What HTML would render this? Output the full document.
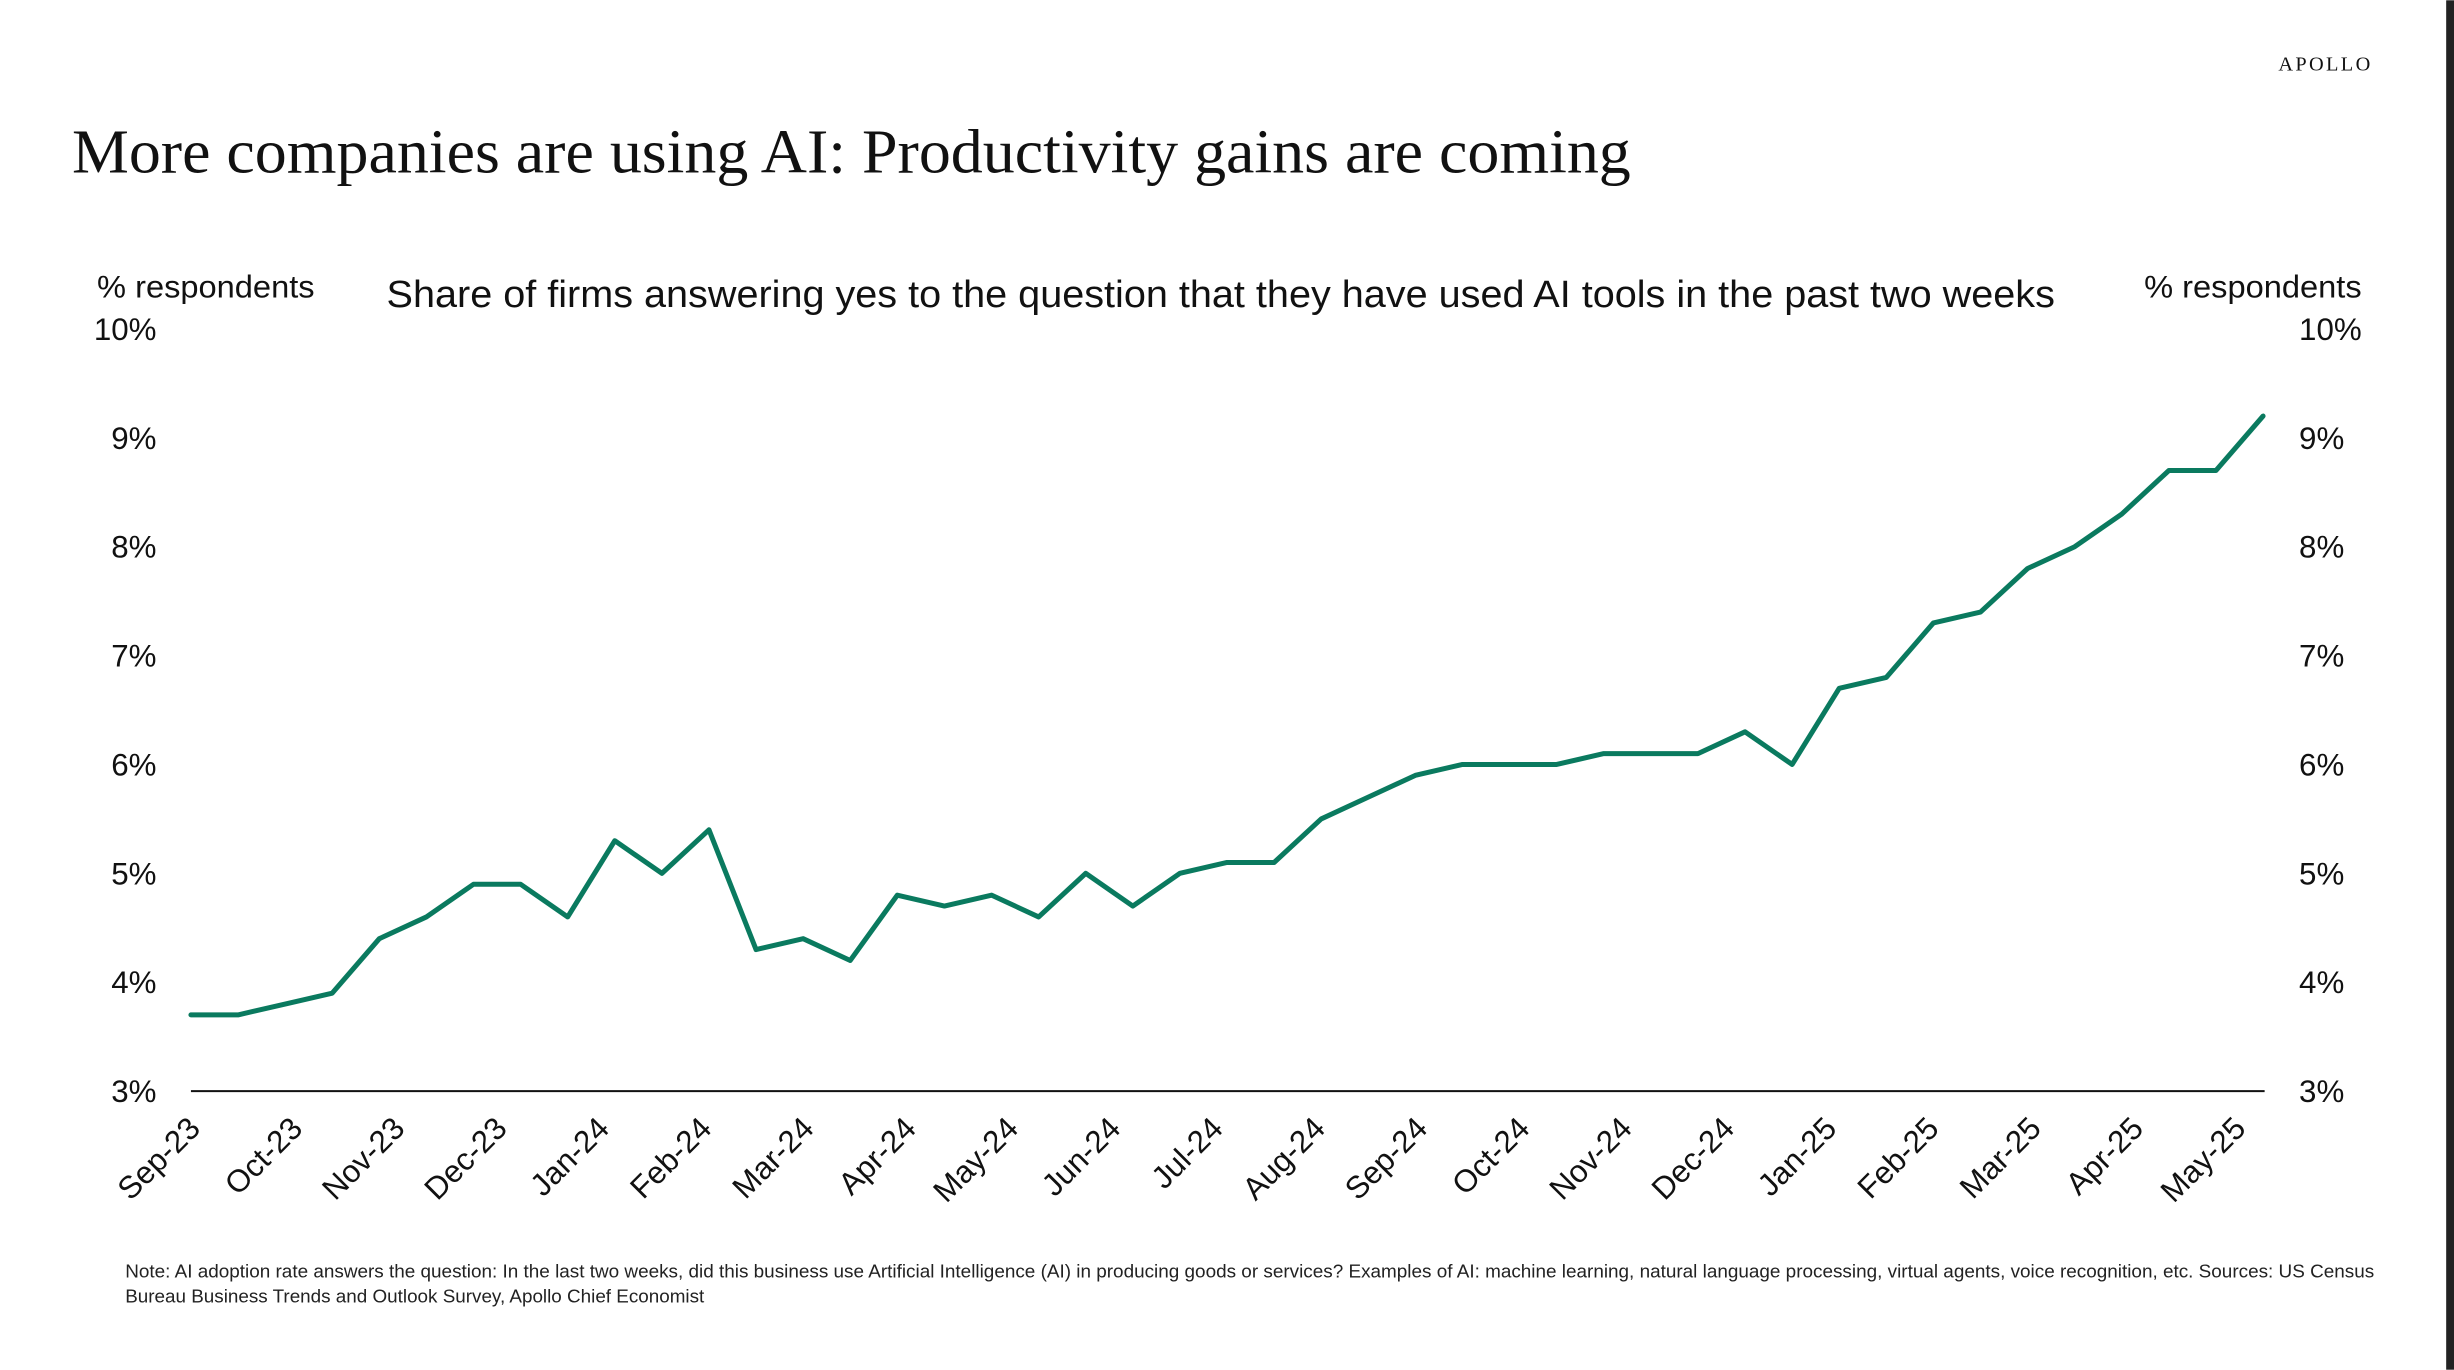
<!DOCTYPE html>
<html><head><meta charset="utf-8"><style>
html,body{margin:0;padding:0;background:#fff;}
svg{display:block;}
</style></head><body>
<svg id="chart" width="2454" height="1370" viewBox="0 0 1568 875" xmlns="http://www.w3.org/2000/svg">
<rect x="0" y="0" width="1568" height="875" fill="#fff"/>
<rect x="1563" y="0" width="5" height="875" fill="#222"/>
<text x="1516" y="45" text-anchor="end" font-family="Liberation Serif, serif" font-size="13" letter-spacing="1.5" fill="#111">APOLLO</text>
<text x="46" y="110" font-family="Liberation Serif, serif" font-size="40" fill="#111" textLength="996" lengthAdjust="spacingAndGlyphs">More companies are using AI: Productivity gains are coming</text>
<text x="247" y="196" font-family="Liberation Sans, sans-serif" font-size="24" fill="#111" textLength="1066" lengthAdjust="spacingAndGlyphs">Share of firms answering yes to the question that they have used AI tools in the past two weeks</text>
<text x="62" y="190" font-family="Liberation Sans, sans-serif" font-size="20" fill="#111" textLength="139" lengthAdjust="spacingAndGlyphs">% respondents</text>
<text x="1370" y="190" font-family="Liberation Sans, sans-serif" font-size="20" fill="#111" textLength="139" lengthAdjust="spacingAndGlyphs">% respondents</text>
<g id="yl"></g><g id="yr"></g><g id="xl"></g>
<line x1="122" y1="697" x2="1447" y2="697" stroke="#111" stroke-width="1.3"/>
<path id="series" fill="none" stroke="#0a7a5f" stroke-width="3.2" stroke-linejoin="round" stroke-linecap="round"/>
<text font-family="Liberation Sans, sans-serif" font-size="12" fill="#222"><tspan x="80" y="816" textLength="1437" lengthAdjust="spacingAndGlyphs">Note: AI adoption rate answers the question: In the last two weeks, did this business use Artificial Intelligence (AI) in producing goods or services? Examples of AI: machine learning, natural language processing, virtual agents, voice recognition, etc. Sources: US Census</tspan><tspan x="80" y="832" textLength="370" lengthAdjust="spacingAndGlyphs">Bureau Business Trends and Outlook Survey, Apollo Chief Economist</tspan></text>
</svg>
<script>
const values = [3.7,3.7,3.8,3.9,4.4,4.6,4.9,4.9,4.6,5.3,5.0,5.4,4.3,4.4,4.2,4.8,4.7,4.8,4.6,5.0,4.7,5.0,5.1,5.1,5.5,5.7,5.9,6.0,6.0,6.0,6.1,6.1,6.1,6.3,6.0,6.7,6.8,7.3,7.4,7.8,8.0,8.3,8.7,8.7,9.2];
const monthLabels = ["Sep-23","Oct-23","Nov-23","Dec-23","Jan-24","Feb-24","Mar-24","Apr-24","May-24","Jun-24","Jul-24","Aug-24","Sep-24","Oct-24","Nov-24","Dec-24","Jan-25","Feb-25","Mar-25","Apr-25","May-25"];
const yTicks = [3,4,5,6,7,8,9,10];
const NS = "http://www.w3.org/2000/svg";
function y(v){ return 697 - (v - 3) * (697 - 210) / 7; }
function x(i){ return 122 + i * (1446 - 122) / (values.length - 1); }
function xm(m){ return 129 + m * (1436 - 129) / (monthLabels.length - 1); }
let d = "";
values.forEach((v,i)=>{ d += (i ? "L" : "M") + x(i).toFixed(2) + "," + y(v).toFixed(2); });
document.getElementById("series").setAttribute("d", d);
function txt(parent, xx, yy, s, anchor){
  const t = document.createElementNS(NS, "text");
  t.setAttribute("x", xx); t.setAttribute("y", yy);
  t.setAttribute("text-anchor", anchor);
  t.setAttribute("font-family", "Liberation Sans, sans-serif");
  t.setAttribute("font-size", "20"); t.setAttribute("fill", "#111");
  t.textContent = s; parent.appendChild(t); return t;
}
yTicks.forEach(v=>{
  const a = txt(document.getElementById("yl"), 100, y(v) + 7, v + "%", "end");
  
  
  const b = txt(document.getElementById("yr"), 1469, y(v) + 7, v + "%", "start");
  
  
});
monthLabels.forEach((s,m)=>{
  const xx = xm(m), yy = 722;
  const t = txt(document.getElementById("xl"), xx, yy, s, "end");
  t.setAttribute("transform", "rotate(-45 " + xx + " " + yy + ")");
  
  
});
</script>
</body></html>
